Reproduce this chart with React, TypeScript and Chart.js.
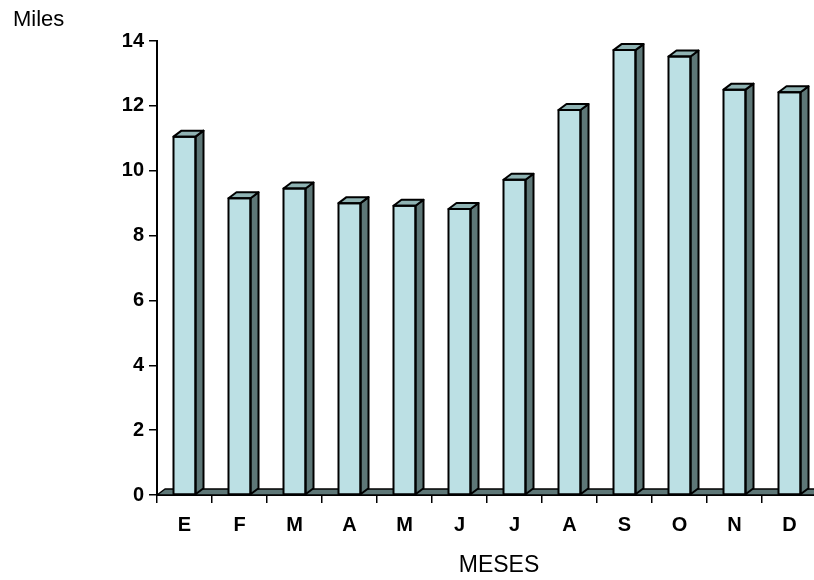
import React, { useEffect, useRef } from "react";
import { Chart, registerables } from "chart.js";

Chart.register(...registerables);

const months = ["E", "F", "M", "A", "M", "J", "J", "A", "S", "O", "N", "D"];
const miles = [11.05, 9.15, 9.45, 9.0, 8.92, 8.82, 9.72, 11.87, 13.72, 13.52, 12.5, 12.42];
const yMin = 0;
const yMax = 14;
const yStep = 2;
const yTitle = "Miles";
const xTitle = "MESES";

const FRONT = "#BCE0E4";
const TOP = "#8FB3B3";
const SIDE = "#5E7777";
const DX = 8;
const DY = 6;
const FONT = "'Liberation Sans', Arial, sans-serif";

const bar3d = {
  id: "bar3d",
  beforeDatasetsDraw(chart: any) {
    const { ctx, chartArea } = chart;
    const { left, right, bottom } = chartArea;
    ctx.save();
    ctx.beginPath();
    ctx.moveTo(left, bottom);
    ctx.lineTo(left + DX, bottom - DY);
    ctx.lineTo(right + DX, bottom - DY);
    ctx.lineTo(right, bottom);
    ctx.closePath();
    ctx.fillStyle = SIDE;
    ctx.fill();
    ctx.strokeStyle = "#000";
    ctx.lineWidth = 1.5;
    ctx.lineJoin = "round";
    ctx.stroke();
    ctx.restore();
  },
  afterDatasetsDraw(chart: any) {
    const { ctx } = chart;
    const meta = chart.getDatasetMeta(0);
    ctx.save();
    ctx.strokeStyle = "#000";
    ctx.lineWidth = 2;
    ctx.lineJoin = "round";
    meta.data.forEach((el: any) => {
      const { x, y, base, width } = el.getProps(["x", "y", "base", "width"], true);
      const l = x - width / 2;
      const r = x + width / 2;
      // side face
      ctx.beginPath();
      ctx.moveTo(r, y);
      ctx.lineTo(r + DX, y - DY);
      ctx.lineTo(r + DX, base - DY);
      ctx.lineTo(r, base);
      ctx.closePath();
      ctx.fillStyle = SIDE;
      ctx.fill();
      ctx.stroke();
      // top face
      ctx.beginPath();
      ctx.moveTo(l, y);
      ctx.lineTo(l + DX, y - DY);
      ctx.lineTo(r + DX, y - DY);
      ctx.lineTo(r, y);
      ctx.closePath();
      ctx.fillStyle = TOP;
      ctx.fill();
      ctx.stroke();
      // front outline
      ctx.beginPath();
      ctx.rect(l, y, width, base - y);
      ctx.stroke();
    });
    ctx.restore();
  },
  afterDraw(chart: any) {
    const { ctx } = chart;
    ctx.save();
    ctx.fillStyle = "#000";
    ctx.textBaseline = "alphabetic";
    ctx.font = `22px ${FONT}`;
    ctx.textAlign = "left";
    ctx.fillText(yTitle, 13, 26);
    ctx.font = `23px ${FONT}`;
    ctx.textAlign = "center";
    ctx.fillText(xTitle, 499, 572);
    ctx.restore();
  },
};

export default function App() {
  const ref = useRef<HTMLCanvasElement | null>(null);

  useEffect(() => {
    if (!ref.current) return;
    const chart = new Chart(ref.current, {
      type: "bar",
      data: {
        labels: months,
        datasets: [
          {
            data: miles,
            backgroundColor: FRONT,
            borderColor: "#000",
            borderWidth: 0,
            categoryPercentage: 1,
            barPercentage: 0.4,
          },
        ],
      },
      options: {
        animation: false,
        responsive: false,
        devicePixelRatio: 1,
        layout: { padding: { top: 41, right: 23, left: 0, bottom: 0 } },
        plugins: {
          legend: { display: false },
          tooltip: { enabled: false },
          title: { display: false },
        },
        scales: {
          x: {
            afterFit: (s: any) => {
              s.height = 85;
            },
            grid: {
              display: true,
              drawOnChartArea: false,
              drawTicks: true,
              tickLength: 8,
              color: "#000",
              lineWidth: 1.5,
              offset: true,
            },
            border: { display: true, color: "#000", width: 2 },
            ticks: {
              color: "#000",
              padding: 10,
              font: { family: FONT, size: 20, weight: "bold" },
              maxRotation: 0,
              autoSkip: false,
            },
          },
          y: {
            min: yMin,
            max: yMax,
            afterFit: (s: any) => {
              s.width = 157;
            },
            grid: {
              display: true,
              drawOnChartArea: false,
              drawTicks: true,
              tickLength: 8,
              color: "#000",
              lineWidth: 1.5,
            },
            border: { display: true, color: "#000", width: 2 },
            ticks: {
              stepSize: yStep,
              color: "#000",
              padding: 5,
              font: { family: FONT, size: 20, weight: "bold" },
            },
          },
        },
      },
      plugins: [bar3d],
    });
    return () => chart.destroy();
  }, []);

  return (
    <div
      style={{
        position: "absolute",
        left: 0,
        top: 0,
        width: 814,
        height: 580,
        overflow: "hidden",
        background: "#fff",
      }}
    >
      <canvas ref={ref} width={840} height={580} style={{ display: "block" }} />
    </div>
  );
}
